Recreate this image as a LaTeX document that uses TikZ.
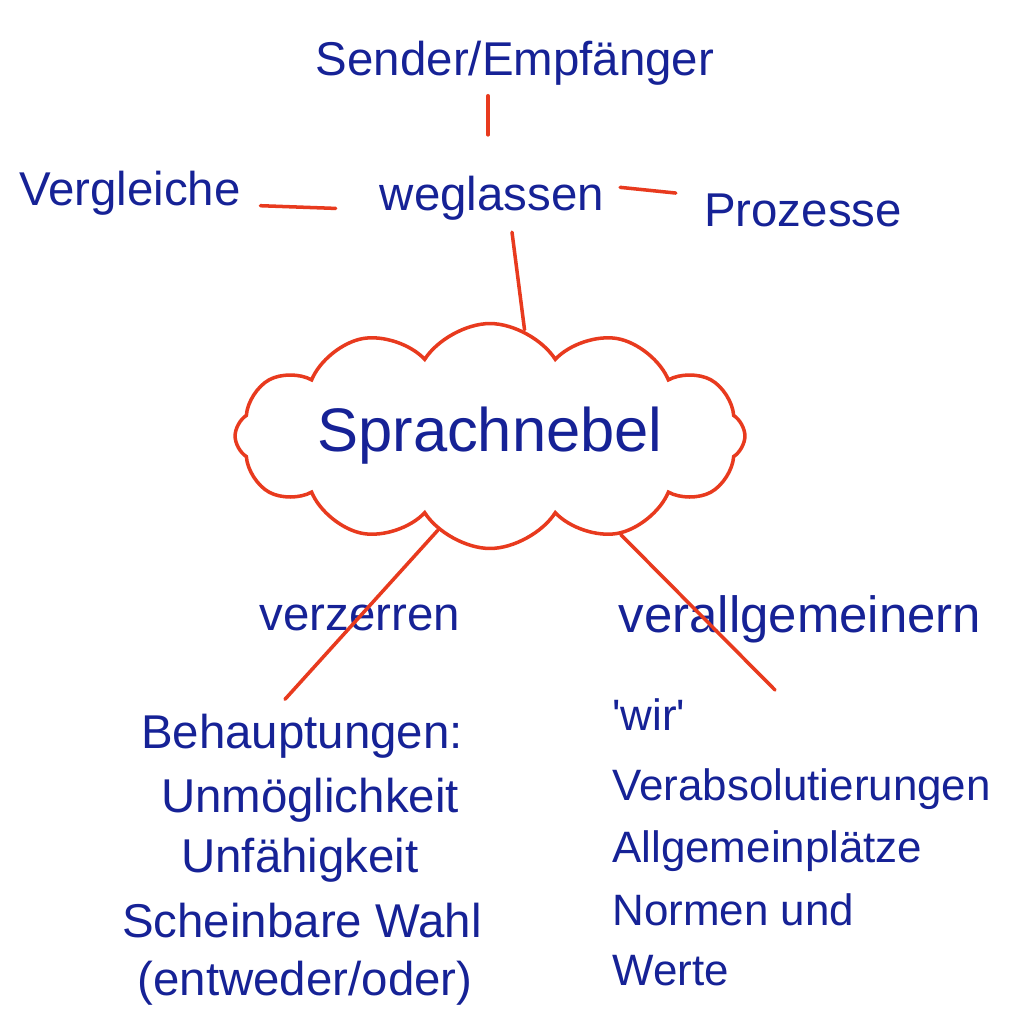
\documentclass[tikz,border=0pt]{standalone}
\usepackage{fontspec}
\setmainfont{Liberation Sans}
\usetikzlibrary{shapes.symbols,calc}
\definecolor{ink}{RGB}{22,34,150}
\definecolor{marker}{RGB}{232,58,30}
\begin{document}
\begin{tikzpicture}[x=0.02cm,y=-0.02cm,
  lbl/.style={text=ink,inner sep=0pt,font=\fontsize{27}{32}\selectfont},
  rlbl/.style={text=ink,inner sep=0pt,font=\fontsize{25}{30}\selectfont},
  link/.style={draw=marker,line width=2pt,line cap=round},
  fog/.style={cloud,draw=marker,line width=2pt,cloud puffs=12,cloud puff arc=115,
    cloud ignores aspect,minimum width=10.2cm,minimum height=4.5cm,inner sep=0pt,
    text=ink,font=\fontsize{35}{40}\selectfont}]
\useasboundingbox[fill=white] (0,0) rectangle (1008,1035);

% top level
\node[lbl,anchor=base] (sender) at (515,75) {Sender/Empfänger};
\node[lbl,anchor=base] (vergleiche) at (130,205) {Vergleiche};
\node[lbl,anchor=base] (weglassen) at (492,210) {weglassen};
\node[lbl,anchor=base] (prozesse) at (803,226) {Prozesse};

% cloud
\node[fog] (cloud) at (490,436) {Sprachnebel};

% branch labels
\node[lbl,anchor=base] (verzerren) at (360,630) {verzerren};
\node[rlbl,font=\fontsize{29}{34}\selectfont,anchor=base] (verallg) at (800,632) {verallgemeinern};

% left list
\node[lbl,anchor=base] (l1) at (302,748) {Behauptungen:};
\node[lbl,anchor=base] (l2) at (310,812) {Unmöglichkeit};
\node[lbl,anchor=base] (l3) at (300,872) {Unfähigkeit};
\node[lbl,anchor=base] (l4) at (302,937) {Scheinbare Wahl};
\node[lbl,anchor=base] (l5) at (305,995) {(entweder/oder)};

% right list
\node[rlbl,anchor=base west] (r1) at (612,730) {\textquotesingle wir\textquotesingle};
\node[rlbl,anchor=base west] (r2) at (612,800) {Verabsolutierungen};
\node[rlbl,anchor=base west] (r3) at (612,862) {Allgemeinplätze};
\node[rlbl,anchor=base west] (r4) at (612,925) {Normen und};
\node[rlbl,anchor=base west] (r5) at (612,985) {Werte};

% connectors
\draw[link,shorten <=6pt,shorten >=23pt] ($(sender.south)+(-27,0)$) -- ($(weglassen.north)+(-4,0)$);
\draw[link,shorten <=11pt,shorten >=25pt] (vergleiche.base east) -- (weglassen.base west);
\draw[link,shorten <=9pt,shorten >=16pt] ($(weglassen.east)+(0,-12)$) -- ($(prozesse.west)+(0,-14)$);
\draw[link] ($(weglassen.south)+(20,12)$) -- (cloud.72);
\draw[link] (cloud.-119) -- ($(l1.north)+(-17,-14)$);
\draw[link] (cloud.-37) -- ($(r1.base west)+(163,-40)$);
\end{tikzpicture}
\end{document}
